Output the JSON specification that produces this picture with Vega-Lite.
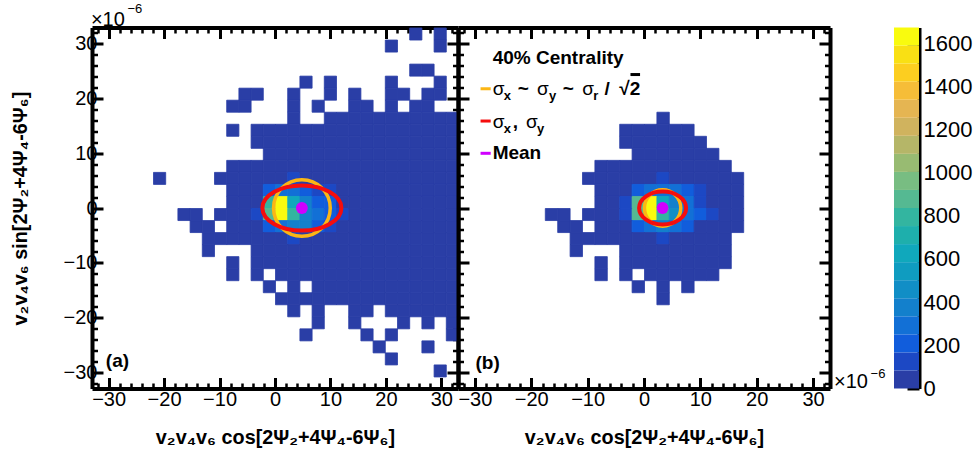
{
"$schema":"https://vega.github.io/schema/vega-lite/v6.json",
"background":"white",
"padding":{"left":10,"top":2.5,"right":5,"bottom":5},
"config":{"view":{"stroke":null},"axis":{"grid":false,"domainColor":"#000","domainWidth":4,"tickColor":"#000","tickWidth":3,"labelColor":"#000","labelFont":"Liberation Sans","labelFontSize":20,"labelPadding":6,"titleFont":"Liberation Sans","titleFontSize":19.8,"titleFontWeight":"bold","titleColor":"#000","zindex":1,"labelFlush":false,"labelOverlap":false},"text":{"font":"Liberation Sans","color":"#000"}},
"datasets":{
"ca":[
{"x":24.2,"y":30.8,"c":10},{"x":28.6,"y":30.8,"c":10},
{"x":19.8,"y":28.6,"c":10},{"x":28.6,"y":28.6,"c":10},
{"x":24.2,"y":24.2,"c":10},{"x":26.4,"y":24.2,"c":10},
{"x":4.4,"y":22,"c":10},{"x":8.8,"y":22,"c":10},{"x":19.8,"y":22,"c":10},{"x":28.6,"y":22,"c":10},
{"x":-6.6,"y":19.8,"c":10},{"x":-4.4,"y":19.8,"c":10},{"x":2.2,"y":19.8,"c":10},{"x":8.8,"y":19.8,"c":10},{"x":13.2,"y":19.8,"c":10},{"x":19.8,"y":19.8,"c":10},{"x":22,"y":19.8,"c":10},{"x":26.4,"y":19.8,"c":10},{"x":28.6,"y":19.8,"c":10},
{"x":-8.8,"y":17.6,"c":10},{"x":-6.6,"y":17.6,"c":10},{"x":2.2,"y":17.6,"c":10},{"x":6.6,"y":17.6,"c":10},{"x":13.2,"y":17.6,"c":10},{"x":15.4,"y":17.6,"c":10},{"x":19.8,"y":17.6,"c":10},{"x":24.2,"y":17.6,"c":10},{"x":26.4,"y":17.6,"c":10},
{"x":2.2,"y":15.4,"c":10},{"x":8.8,"y":15.4,"c":10},{"x":11,"y":15.4,"c":10},{"x":13.2,"y":15.4,"c":10},{"x":15.4,"y":15.4,"c":10},{"x":17.6,"y":15.4,"c":10},{"x":19.8,"y":15.4,"c":10},{"x":22,"y":15.4,"c":10},{"x":24.2,"y":15.4,"c":10},{"x":26.4,"y":15.4,"c":10},{"x":28.6,"y":15.4,"c":10},{"x":30.8,"y":15.4,"c":10},
{"x":-8.8,"y":13.2,"c":10},{"x":-4.4,"y":13.2,"c":10},{"x":-2.2,"y":13.2,"c":10},{"x":0,"y":13.2,"c":10},{"x":2.2,"y":13.2,"c":10},{"x":4.4,"y":13.2,"c":10},{"x":6.6,"y":13.2,"c":10},{"x":8.8,"y":13.2,"c":10},{"x":11,"y":13.2,"c":10},{"x":13.2,"y":13.2,"c":10},{"x":15.4,"y":13.2,"c":10},{"x":17.6,"y":13.2,"c":10},{"x":19.8,"y":13.2,"c":10},{"x":22,"y":13.2,"c":10},{"x":24.2,"y":13.2,"c":10},{"x":26.4,"y":13.2,"c":10},{"x":28.6,"y":13.2,"c":10},{"x":30.8,"y":13.2,"c":10},
{"x":-4.4,"y":11,"c":10},{"x":-2.2,"y":11,"c":10},{"x":0,"y":11,"c":10},{"x":2.2,"y":11,"c":10},{"x":4.4,"y":11,"c":10},{"x":6.6,"y":11,"c":10},{"x":8.8,"y":11,"c":10},{"x":11,"y":11,"c":10},{"x":13.2,"y":11,"c":10},{"x":15.4,"y":11,"c":10},{"x":17.6,"y":11,"c":10},{"x":19.8,"y":11,"c":10},{"x":22,"y":11,"c":10},{"x":24.2,"y":11,"c":10},{"x":26.4,"y":11,"c":10},{"x":28.6,"y":11,"c":10},{"x":30.8,"y":11,"c":10},
{"x":-2.2,"y":8.8,"c":10},{"x":0,"y":8.8,"c":10},{"x":2.2,"y":8.8,"c":10},{"x":4.4,"y":8.8,"c":10},{"x":6.6,"y":8.8,"c":10},{"x":8.8,"y":8.8,"c":10},{"x":11,"y":8.8,"c":10},{"x":13.2,"y":8.8,"c":10},{"x":15.4,"y":8.8,"c":10},{"x":17.6,"y":8.8,"c":10},{"x":19.8,"y":8.8,"c":10},{"x":22,"y":8.8,"c":10},{"x":24.2,"y":8.8,"c":10},{"x":26.4,"y":8.8,"c":10},{"x":28.6,"y":8.8,"c":10},{"x":30.8,"y":8.8,"c":10},
{"x":-8.8,"y":6.6,"c":10},{"x":-6.6,"y":6.6,"c":10},{"x":-4.4,"y":6.6,"c":10},{"x":-2.2,"y":6.6,"c":10},{"x":0,"y":6.6,"c":10},{"x":2.2,"y":6.6,"c":10},{"x":4.4,"y":6.6,"c":10},{"x":6.6,"y":6.6,"c":10},{"x":8.8,"y":6.6,"c":10},{"x":11,"y":6.6,"c":10},{"x":13.2,"y":6.6,"c":10},{"x":15.4,"y":6.6,"c":10},{"x":17.6,"y":6.6,"c":10},{"x":19.8,"y":6.6,"c":10},{"x":22,"y":6.6,"c":10},{"x":24.2,"y":6.6,"c":10},{"x":26.4,"y":6.6,"c":10},{"x":28.6,"y":6.6,"c":10},{"x":30.8,"y":6.6,"c":10},
{"x":-22,"y":4.4,"c":10},{"x":-11,"y":4.4,"c":10},{"x":-8.8,"y":4.4,"c":10},{"x":-6.6,"y":4.4,"c":10},{"x":-4.4,"y":4.4,"c":10},{"x":-2.2,"y":4.4,"c":10},{"x":0,"y":4.4,"c":10},{"x":2.2,"y":4.4,"c":150},{"x":4.4,"y":4.4,"c":10},{"x":6.6,"y":4.4,"c":10},{"x":8.8,"y":4.4,"c":10},{"x":11,"y":4.4,"c":10},{"x":13.2,"y":4.4,"c":10},{"x":15.4,"y":4.4,"c":10},{"x":17.6,"y":4.4,"c":10},{"x":19.8,"y":4.4,"c":10},{"x":22,"y":4.4,"c":10},{"x":24.2,"y":4.4,"c":10},{"x":26.4,"y":4.4,"c":10},{"x":28.6,"y":4.4,"c":10},{"x":30.8,"y":4.4,"c":10},
{"x":-8.8,"y":2.2,"c":10},{"x":-6.6,"y":2.2,"c":10},{"x":-4.4,"y":2.2,"c":10},{"x":-2.2,"y":2.2,"c":200},{"x":0,"y":2.2,"c":260},{"x":2.2,"y":2.2,"c":300},{"x":4.4,"y":2.2,"c":200},{"x":6.6,"y":2.2,"c":150},{"x":8.8,"y":2.2,"c":100},{"x":11,"y":2.2,"c":10},{"x":13.2,"y":2.2,"c":10},{"x":15.4,"y":2.2,"c":10},{"x":17.6,"y":2.2,"c":10},{"x":19.8,"y":2.2,"c":10},{"x":22,"y":2.2,"c":10},{"x":24.2,"y":2.2,"c":10},{"x":26.4,"y":2.2,"c":10},{"x":28.6,"y":2.2,"c":10},{"x":30.8,"y":2.2,"c":10},
{"x":-8.8,"y":0,"c":10},{"x":-6.6,"y":0,"c":10},{"x":-4.4,"y":0,"c":40},{"x":-2.2,"y":0,"c":800},{"x":0,"y":0,"c":1650},{"x":2.2,"y":0,"c":620},{"x":4.4,"y":0,"c":380},{"x":6.6,"y":0,"c":250},{"x":8.8,"y":0,"c":200},{"x":11,"y":0,"c":40},{"x":13.2,"y":0,"c":10},{"x":15.4,"y":0,"c":10},{"x":17.6,"y":0,"c":10},{"x":19.8,"y":0,"c":10},{"x":22,"y":0,"c":10},{"x":24.2,"y":0,"c":10},{"x":26.4,"y":0,"c":10},{"x":28.6,"y":0,"c":10},{"x":30.8,"y":0,"c":10},
{"x":-17.6,"y":-2.2,"c":10},{"x":-15.4,"y":-2.2,"c":10},{"x":-11,"y":-2.2,"c":10},{"x":-8.8,"y":-2.2,"c":10},{"x":-6.6,"y":-2.2,"c":10},{"x":-4.4,"y":-2.2,"c":150},{"x":-2.2,"y":-2.2,"c":850},{"x":0,"y":-2.2,"c":1650},{"x":2.2,"y":-2.2,"c":780},{"x":4.4,"y":-2.2,"c":400},{"x":6.6,"y":-2.2,"c":280},{"x":8.8,"y":-2.2,"c":220},{"x":11,"y":-2.2,"c":150},{"x":13.2,"y":-2.2,"c":30},{"x":15.4,"y":-2.2,"c":10},{"x":17.6,"y":-2.2,"c":10},{"x":19.8,"y":-2.2,"c":10},{"x":22,"y":-2.2,"c":10},{"x":24.2,"y":-2.2,"c":10},{"x":26.4,"y":-2.2,"c":10},{"x":28.6,"y":-2.2,"c":10},{"x":30.8,"y":-2.2,"c":10},
{"x":-15.4,"y":-4.4,"c":10},{"x":-13.2,"y":-4.4,"c":10},{"x":-8.8,"y":-4.4,"c":10},{"x":-6.6,"y":-4.4,"c":10},{"x":-4.4,"y":-4.4,"c":10},{"x":-2.2,"y":-4.4,"c":200},{"x":0,"y":-4.4,"c":260},{"x":2.2,"y":-4.4,"c":340},{"x":4.4,"y":-4.4,"c":340},{"x":6.6,"y":-4.4,"c":200},{"x":8.8,"y":-4.4,"c":100},{"x":11,"y":-4.4,"c":10},{"x":13.2,"y":-4.4,"c":10},{"x":15.4,"y":-4.4,"c":10},{"x":17.6,"y":-4.4,"c":10},{"x":19.8,"y":-4.4,"c":10},{"x":22,"y":-4.4,"c":10},{"x":24.2,"y":-4.4,"c":10},{"x":26.4,"y":-4.4,"c":10},{"x":28.6,"y":-4.4,"c":10},{"x":30.8,"y":-4.4,"c":10},
{"x":-13.2,"y":-6.6,"c":10},{"x":-11,"y":-6.6,"c":10},{"x":-8.8,"y":-6.6,"c":10},{"x":-6.6,"y":-6.6,"c":10},{"x":-4.4,"y":-6.6,"c":10},{"x":-2.2,"y":-6.6,"c":10},{"x":0,"y":-6.6,"c":10},{"x":2.2,"y":-6.6,"c":150},{"x":4.4,"y":-6.6,"c":10},{"x":6.6,"y":-6.6,"c":10},{"x":8.8,"y":-6.6,"c":10},{"x":11,"y":-6.6,"c":10},{"x":13.2,"y":-6.6,"c":10},{"x":15.4,"y":-6.6,"c":10},{"x":17.6,"y":-6.6,"c":10},{"x":19.8,"y":-6.6,"c":10},{"x":22,"y":-6.6,"c":10},{"x":24.2,"y":-6.6,"c":10},{"x":26.4,"y":-6.6,"c":10},{"x":28.6,"y":-6.6,"c":10},{"x":30.8,"y":-6.6,"c":10},
{"x":-13.2,"y":-8.8,"c":10},{"x":-4.4,"y":-8.8,"c":10},{"x":-2.2,"y":-8.8,"c":10},{"x":0,"y":-8.8,"c":10},{"x":2.2,"y":-8.8,"c":10},{"x":4.4,"y":-8.8,"c":10},{"x":6.6,"y":-8.8,"c":10},{"x":8.8,"y":-8.8,"c":10},{"x":11,"y":-8.8,"c":10},{"x":13.2,"y":-8.8,"c":10},{"x":15.4,"y":-8.8,"c":10},{"x":17.6,"y":-8.8,"c":10},{"x":19.8,"y":-8.8,"c":10},{"x":22,"y":-8.8,"c":10},{"x":24.2,"y":-8.8,"c":10},{"x":26.4,"y":-8.8,"c":10},{"x":28.6,"y":-8.8,"c":10},{"x":30.8,"y":-8.8,"c":10},
{"x":-8.8,"y":-11,"c":10},{"x":-4.4,"y":-11,"c":10},{"x":-2.2,"y":-11,"c":10},{"x":0,"y":-11,"c":10},{"x":2.2,"y":-11,"c":10},{"x":4.4,"y":-11,"c":10},{"x":6.6,"y":-11,"c":10},{"x":8.8,"y":-11,"c":10},{"x":11,"y":-11,"c":10},{"x":13.2,"y":-11,"c":10},{"x":15.4,"y":-11,"c":10},{"x":17.6,"y":-11,"c":10},{"x":19.8,"y":-11,"c":10},{"x":22,"y":-11,"c":10},{"x":24.2,"y":-11,"c":10},{"x":26.4,"y":-11,"c":10},{"x":28.6,"y":-11,"c":10},{"x":30.8,"y":-11,"c":10},
{"x":-8.8,"y":-13.2,"c":10},{"x":-4.4,"y":-13.2,"c":10},{"x":0,"y":-13.2,"c":10},{"x":2.2,"y":-13.2,"c":10},{"x":4.4,"y":-13.2,"c":10},{"x":6.6,"y":-13.2,"c":10},{"x":8.8,"y":-13.2,"c":10},{"x":11,"y":-13.2,"c":10},{"x":13.2,"y":-13.2,"c":10},{"x":15.4,"y":-13.2,"c":10},{"x":17.6,"y":-13.2,"c":10},{"x":19.8,"y":-13.2,"c":10},{"x":22,"y":-13.2,"c":10},{"x":24.2,"y":-13.2,"c":10},{"x":26.4,"y":-13.2,"c":10},{"x":28.6,"y":-13.2,"c":10},{"x":30.8,"y":-13.2,"c":10},
{"x":-2.2,"y":-15.4,"c":10},{"x":2.2,"y":-15.4,"c":10},{"x":6.6,"y":-15.4,"c":10},{"x":8.8,"y":-15.4,"c":10},{"x":11,"y":-15.4,"c":10},{"x":13.2,"y":-15.4,"c":10},{"x":15.4,"y":-15.4,"c":10},{"x":17.6,"y":-15.4,"c":10},{"x":19.8,"y":-15.4,"c":10},{"x":22,"y":-15.4,"c":10},{"x":24.2,"y":-15.4,"c":10},{"x":26.4,"y":-15.4,"c":10},{"x":28.6,"y":-15.4,"c":10},{"x":30.8,"y":-15.4,"c":10},
{"x":0,"y":-17.6,"c":10},{"x":2.2,"y":-17.6,"c":10},{"x":4.4,"y":-17.6,"c":10},{"x":6.6,"y":-17.6,"c":10},{"x":8.8,"y":-17.6,"c":10},{"x":11,"y":-17.6,"c":10},{"x":13.2,"y":-17.6,"c":10},{"x":15.4,"y":-17.6,"c":10},{"x":17.6,"y":-17.6,"c":10},{"x":19.8,"y":-17.6,"c":10},{"x":22,"y":-17.6,"c":10},{"x":24.2,"y":-17.6,"c":10},{"x":26.4,"y":-17.6,"c":10},{"x":28.6,"y":-17.6,"c":10},{"x":30.8,"y":-17.6,"c":10},
{"x":2.2,"y":-19.8,"c":10},{"x":6.6,"y":-19.8,"c":10},{"x":13.2,"y":-19.8,"c":10},{"x":15.4,"y":-19.8,"c":10},{"x":19.8,"y":-19.8,"c":10},{"x":22,"y":-19.8,"c":10},{"x":24.2,"y":-19.8,"c":10},{"x":26.4,"y":-19.8,"c":10},{"x":28.6,"y":-19.8,"c":10},{"x":30.8,"y":-19.8,"c":10},
{"x":6.6,"y":-22,"c":10},{"x":13.2,"y":-22,"c":10},{"x":22,"y":-22,"c":10},{"x":26.4,"y":-22,"c":10},{"x":30.8,"y":-22,"c":10},
{"x":4.4,"y":-24.2,"c":10},{"x":15.4,"y":-24.2,"c":10},{"x":19.8,"y":-24.2,"c":10},{"x":30.8,"y":-24.2,"c":10},
{"x":17.6,"y":-26.4,"c":10},{"x":26.4,"y":-26.4,"c":10},
{"x":19.8,"y":-28.6,"c":10},
{"x":28.6,"y":-30.8,"c":10}
],
"cb":[
{"x":2.2,"y":15.4,"c":10},
{"x":-4.4,"y":13.2,"c":10},{"x":-2.2,"y":13.2,"c":10},{"x":0,"y":13.2,"c":10},{"x":2.2,"y":13.2,"c":10},{"x":4.4,"y":13.2,"c":10},{"x":6.6,"y":13.2,"c":10},
{"x":-4.4,"y":11,"c":10},{"x":-2.2,"y":11,"c":10},{"x":0,"y":11,"c":10},{"x":2.2,"y":11,"c":10},{"x":4.4,"y":11,"c":10},{"x":6.6,"y":11,"c":10},{"x":8.8,"y":11,"c":10},
{"x":-2.2,"y":8.8,"c":10},{"x":0,"y":8.8,"c":10},{"x":2.2,"y":8.8,"c":10},{"x":4.4,"y":8.8,"c":10},{"x":6.6,"y":8.8,"c":10},{"x":8.8,"y":8.8,"c":10},{"x":11,"y":8.8,"c":10},
{"x":-8.8,"y":6.6,"c":10},{"x":-6.6,"y":6.6,"c":10},{"x":-4.4,"y":6.6,"c":10},{"x":-2.2,"y":6.6,"c":10},{"x":0,"y":6.6,"c":10},{"x":2.2,"y":6.6,"c":10},{"x":4.4,"y":6.6,"c":10},{"x":6.6,"y":6.6,"c":10},{"x":8.8,"y":6.6,"c":10},{"x":11,"y":6.6,"c":10},{"x":13.2,"y":6.6,"c":10},
{"x":-11,"y":4.4,"c":10},{"x":-8.8,"y":4.4,"c":10},{"x":-6.6,"y":4.4,"c":10},{"x":-4.4,"y":4.4,"c":10},{"x":-2.2,"y":4.4,"c":10},{"x":0,"y":4.4,"c":10},{"x":2.2,"y":4.4,"c":150},{"x":4.4,"y":4.4,"c":10},{"x":6.6,"y":4.4,"c":10},{"x":8.8,"y":4.4,"c":10},{"x":11,"y":4.4,"c":10},{"x":13.2,"y":4.4,"c":10},{"x":15.4,"y":4.4,"c":10},
{"x":-8.8,"y":2.2,"c":10},{"x":-6.6,"y":2.2,"c":10},{"x":-4.4,"y":2.2,"c":10},{"x":-2.2,"y":2.2,"c":200},{"x":0,"y":2.2,"c":300},{"x":2.2,"y":2.2,"c":300},{"x":4.4,"y":2.2,"c":300},{"x":6.6,"y":2.2,"c":200},{"x":8.8,"y":2.2,"c":100},{"x":11,"y":2.2,"c":10},{"x":13.2,"y":2.2,"c":10},{"x":15.4,"y":2.2,"c":10},
{"x":-8.8,"y":0,"c":10},{"x":-6.6,"y":0,"c":10},{"x":-4.4,"y":0,"c":100},{"x":-2.2,"y":0,"c":850},{"x":0,"y":0,"c":1650},{"x":2.2,"y":0,"c":620},{"x":4.4,"y":0,"c":380},{"x":6.6,"y":0,"c":280},{"x":8.8,"y":0,"c":150},{"x":11,"y":0,"c":50},{"x":13.2,"y":0,"c":10},{"x":15.4,"y":0,"c":10},
{"x":-17.6,"y":-2.2,"c":10},{"x":-15.4,"y":-2.2,"c":10},{"x":-11,"y":-2.2,"c":10},{"x":-8.8,"y":-2.2,"c":10},{"x":-6.6,"y":-2.2,"c":10},{"x":-4.4,"y":-2.2,"c":120},{"x":-2.2,"y":-2.2,"c":850},{"x":0,"y":-2.2,"c":1650},{"x":2.2,"y":-2.2,"c":780},{"x":4.4,"y":-2.2,"c":420},{"x":6.6,"y":-2.2,"c":300},{"x":8.8,"y":-2.2,"c":180},{"x":11,"y":-2.2,"c":130},{"x":13.2,"y":-2.2,"c":10},{"x":15.4,"y":-2.2,"c":10},
{"x":-15.4,"y":-4.4,"c":10},{"x":-13.2,"y":-4.4,"c":10},{"x":-8.8,"y":-4.4,"c":10},{"x":-6.6,"y":-4.4,"c":10},{"x":-4.4,"y":-4.4,"c":10},{"x":-2.2,"y":-4.4,"c":200},{"x":0,"y":-4.4,"c":300},{"x":2.2,"y":-4.4,"c":350},{"x":4.4,"y":-4.4,"c":300},{"x":6.6,"y":-4.4,"c":200},{"x":8.8,"y":-4.4,"c":40},{"x":11,"y":-4.4,"c":10},{"x":13.2,"y":-4.4,"c":10},{"x":15.4,"y":-4.4,"c":10},
{"x":-13.2,"y":-6.6,"c":10},{"x":-11,"y":-6.6,"c":10},{"x":-8.8,"y":-6.6,"c":10},{"x":-6.6,"y":-6.6,"c":10},{"x":-4.4,"y":-6.6,"c":10},{"x":-2.2,"y":-6.6,"c":10},{"x":0,"y":-6.6,"c":10},{"x":2.2,"y":-6.6,"c":150},{"x":4.4,"y":-6.6,"c":10},{"x":6.6,"y":-6.6,"c":10},{"x":8.8,"y":-6.6,"c":10},{"x":11,"y":-6.6,"c":10},{"x":13.2,"y":-6.6,"c":10},
{"x":-13.2,"y":-8.8,"c":10},{"x":-4.4,"y":-8.8,"c":10},{"x":-2.2,"y":-8.8,"c":10},{"x":0,"y":-8.8,"c":10},{"x":2.2,"y":-8.8,"c":10},{"x":4.4,"y":-8.8,"c":10},{"x":6.6,"y":-8.8,"c":10},{"x":8.8,"y":-8.8,"c":10},{"x":11,"y":-8.8,"c":10},{"x":13.2,"y":-8.8,"c":10},
{"x":-8.8,"y":-11,"c":10},{"x":-4.4,"y":-11,"c":10},{"x":-2.2,"y":-11,"c":10},{"x":0,"y":-11,"c":10},{"x":2.2,"y":-11,"c":10},{"x":4.4,"y":-11,"c":10},{"x":6.6,"y":-11,"c":10},{"x":8.8,"y":-11,"c":10},{"x":11,"y":-11,"c":10},{"x":13.2,"y":-11,"c":10},
{"x":-8.8,"y":-13.2,"c":10},{"x":-4.4,"y":-13.2,"c":10},{"x":0,"y":-13.2,"c":10},{"x":2.2,"y":-13.2,"c":10},{"x":4.4,"y":-13.2,"c":10},{"x":6.6,"y":-13.2,"c":10},{"x":8.8,"y":-13.2,"c":10},{"x":11,"y":-13.2,"c":10},
{"x":-2.2,"y":-15.4,"c":10},{"x":2.2,"y":-15.4,"c":10},{"x":6.6,"y":-15.4,"c":10},
{"x":2.2,"y":-17.6,"c":10}
],
"bar":[
{"lo":0,"hi":83.6,"c":41.8},{"lo":83.6,"hi":167.2,"c":125.4},{"lo":167.2,"hi":250.8,"c":209},{"lo":250.8,"hi":334.4,"c":292.6},{"lo":334.4,"hi":418,"c":376.2},{"lo":418,"hi":501.6,"c":459.8},{"lo":501.6,"hi":585.2,"c":543.4},{"lo":585.2,"hi":668.8,"c":627},{"lo":668.8,"hi":752.4,"c":710.6},{"lo":752.4,"hi":836,"c":794.2},{"lo":836,"hi":919.6,"c":877.8},{"lo":919.6,"hi":1003.2,"c":961.4},{"lo":1003.2,"hi":1086.8,"c":1045},{"lo":1086.8,"hi":1170.4,"c":1128.6},{"lo":1170.4,"hi":1254,"c":1212.2},{"lo":1254,"hi":1337.6,"c":1295.8},{"lo":1337.6,"hi":1421.2,"c":1379.4},{"lo":1421.2,"hi":1504.8,"c":1463},{"lo":1504.8,"hi":1588.4,"c":1546.6},{"lo":1588.4,"hi":1672,"c":1630.2}
]
},
"hconcat":[
{"width":366,"height":361,"resolve":{"axis":{"x":"independent","y":"independent"}},"layer":[
{"data":{"name":"ca"},"mark":{"type":"rect","strokeWidth":0.8},"encoding":{
"x":{"field":"x","type":"quantitative","bin":{"binned":true,"step":2.2},"scale":{"domain":[-33,33],"nice":false,"zero":false},"axis":{"orient":"bottom","values":[-30,-20,-10,0,10,20,30],"tickSize":-11,"title":"v₂v₄v₆ cos[2Ψ₂+4Ψ₄-6Ψ₆]","titlePadding":18,"labelPadding":12,"format":"d"}},
"y":{"field":"y","type":"quantitative","bin":{"binned":true,"step":2.2},"scale":{"domain":[-33,33],"nice":false,"zero":false},"axis":{"orient":"left","values":[-30,-20,-10,0,10,20,30],"tickSize":-11,"title":"v₂v₄v₆ sin[2Ψ₂+4Ψ₄-6Ψ₆]","titlePadding":33,"format":"d"}},
"color":{"field":"c","type":"quantitative","legend":null,"scale":{"type":"quantize","domain":[0,1672],"range":["#2a3ea6","#1c48c4","#115ddc","#1270d6","#1380cc","#118ec6","#0f9cc0","#10a8bc","#1eafac","#33b5a0","#55b992","#78bd82","#98bb72","#b5b668","#d0b35e","#e5b552","#f6bd38","#fcce20","#f9e014","#f9fb0e"]}},
"stroke":{"field":"c","type":"quantitative","legend":null,"scale":{"type":"quantize","domain":[0,1672],"range":["#2a3ea6","#1c48c4","#115ddc","#1270d6","#1380cc","#118ec6","#0f9cc0","#10a8bc","#1eafac","#33b5a0","#55b992","#78bd82","#98bb72","#b5b668","#d0b35e","#e5b552","#f6bd38","#fcce20","#f9e014","#f9fb0e"]}}}},
{"data":{"values":[{"x":4.85,"y":0}]},"mark":{"type":"point","shape":"circle","size":3217,"filled":false,"stroke":"#fcb614","strokeWidth":3.5,"opacity":1},"encoding":{
"x":{"field":"x","type":"quantitative","axis":{"orient":"top","values":[-30,-20,-10,0,10,20,30],"tickSize":-11,"labels":false,"title":null}},
"y":{"field":"y","type":"quantitative","axis":{"orient":"right","values":[-30,-20,-10,0,10,20,30],"tickSize":-11,"labels":false,"title":null}}}},
{"data":{"values":[{"x":4.85,"y":0}]},"mark":{"type":"point","shape":"M-1,0A1,0.57 0 1,1 1,0A1,0.57 0 1,1 -1,0Z","size":6241,"filled":false,"stroke":"#f50d0d","strokeWidth":4,"opacity":1},"encoding":{
"x":{"field":"x","type":"quantitative","axis":{"orient":"bottom","values":[-32,-28,-26,-24,-22,-18,-16,-14,-12,-8,-6,-4,-2,2,4,6,8,12,14,16,18,22,24,26,28,32],"tickSize":-5.5,"tickWidth":2.5,"labels":false,"domain":false,"title":null}},
"y":{"field":"y","type":"quantitative","axis":{"orient":"left","values":[-32,-28,-26,-24,-22,-18,-16,-14,-12,-8,-6,-4,-2,2,4,6,8,12,14,16,18,22,24,26,28,32],"tickSize":-5.5,"tickWidth":2.5,"labels":false,"domain":false,"title":null}}}},
{"data":{"values":[{"x":4.85,"y":0}]},"mark":{"type":"point","shape":"circle","size":141,"filled":true,"color":"#d000ff","opacity":1},"encoding":{
"x":{"field":"x","type":"quantitative","axis":{"orient":"top","values":[-32,-28,-26,-24,-22,-18,-16,-14,-12,-8,-6,-4,-2,2,4,6,8,12,14,16,18,22,24,26,28,32],"tickSize":-5.5,"tickWidth":2.5,"labels":false,"domain":false,"title":null}},
"y":{"field":"y","type":"quantitative","axis":{"orient":"right","values":[-32,-28,-26,-24,-22,-18,-16,-14,-12,-8,-6,-4,-2,2,4,6,8,12,14,16,18,22,24,26,28,32],"tickSize":-5.5,"tickWidth":2.5,"labels":false,"domain":false,"title":null}}}},
{"data":{"values":[{"x":-30.5,"y":-29,"t":"(a)"}]},"mark":{"type":"text","align":"left","baseline":"alphabetic","fontWeight":"bold","fontSize":19},"encoding":{
"x":{"field":"x","type":"quantitative","axis":null},"y":{"field":"y","type":"quantitative","axis":null},"text":{"field":"t"}}},
{"data":{"values":[{"x":-33.2,"y":33.2,"t":"×10"}]},"mark":{"type":"text","align":"left","baseline":"alphabetic","fontSize":20},"encoding":{
"x":{"field":"x","type":"quantitative","axis":null},"y":{"field":"y","type":"quantitative","axis":null},"text":{"field":"t"}}},
{"data":{"values":[{"x":-26.6,"y":35.6,"t":"−6"}]},"mark":{"type":"text","align":"left","baseline":"alphabetic","fontSize":13},"encoding":{
"x":{"field":"x","type":"quantitative","axis":null},"y":{"field":"y","type":"quantitative","axis":null},"text":{"field":"t"}}}
]},
{"width":372,"height":361,"resolve":{"axis":{"x":"independent","y":"independent"}},"layer":[
{"data":{"name":"cb"},"mark":{"type":"rect","strokeWidth":0.8},"encoding":{
"x":{"field":"x","type":"quantitative","bin":{"binned":true,"step":2.2},"scale":{"domain":[-33,33],"nice":false,"zero":false},"axis":{"orient":"bottom","values":[-30,-20,-10,0,10,20,30],"tickSize":-11,"title":"v₂v₄v₆ cos[2Ψ₂+4Ψ₄-6Ψ₆]","titlePadding":18,"labelPadding":12,"format":"d"}},
"y":{"field":"y","type":"quantitative","bin":{"binned":true,"step":2.2},"scale":{"domain":[-33,33],"nice":false,"zero":false},"axis":{"orient":"left","values":[-30,-20,-10,0,10,20,30],"tickSize":-11,"labels":false,"title":null}},
"color":{"field":"c","type":"quantitative","legend":null,"scale":{"type":"quantize","domain":[0,1672],"range":["#2a3ea6","#1c48c4","#115ddc","#1270d6","#1380cc","#118ec6","#0f9cc0","#10a8bc","#1eafac","#33b5a0","#55b992","#78bd82","#98bb72","#b5b668","#d0b35e","#e5b552","#f6bd38","#fcce20","#f9e014","#f9fb0e"]}},
"stroke":{"field":"c","type":"quantitative","legend":null,"scale":{"type":"quantize","domain":[0,1672],"range":["#2a3ea6","#1c48c4","#115ddc","#1270d6","#1380cc","#118ec6","#0f9cc0","#10a8bc","#1eafac","#33b5a0","#55b992","#78bd82","#98bb72","#b5b668","#d0b35e","#e5b552","#f6bd38","#fcce20","#f9e014","#f9fb0e"]}}}},
{"data":{"values":[{"x":3.3,"y":0}]},"mark":{"type":"point","shape":"circle","size":1320,"filled":false,"stroke":"#fcb614","strokeWidth":3.5,"opacity":1},"encoding":{
"x":{"field":"x","type":"quantitative","axis":{"orient":"top","values":[-30,-20,-10,0,10,20,30],"tickSize":-11,"labels":false,"title":null}},
"y":{"field":"y","type":"quantitative","axis":{"orient":"right","values":[-30,-20,-10,0,10,20,30],"tickSize":-11,"labels":false,"title":null}}}},
{"data":{"values":[{"x":3.3,"y":0}]},"mark":{"type":"point","shape":"M-1,0A1,0.7 0 1,1 1,0A1,0.7 0 1,1 -1,0Z","size":2209,"filled":false,"stroke":"#f50d0d","strokeWidth":4,"opacity":1},"encoding":{
"x":{"field":"x","type":"quantitative","axis":{"orient":"bottom","values":[-32,-28,-26,-24,-22,-18,-16,-14,-12,-8,-6,-4,-2,2,4,6,8,12,14,16,18,22,24,26,28,32],"tickSize":-5.5,"tickWidth":2.5,"labels":false,"domain":false,"title":null}},
"y":{"field":"y","type":"quantitative","axis":{"orient":"left","values":[-32,-28,-26,-24,-22,-18,-16,-14,-12,-8,-6,-4,-2,2,4,6,8,12,14,16,18,22,24,26,28,32],"tickSize":-5.5,"tickWidth":2.5,"labels":false,"domain":false,"title":null}}}},
{"data":{"values":[{"x":3.3,"y":0}]},"mark":{"type":"point","shape":"circle","size":141,"filled":true,"color":"#d000ff","opacity":1},"encoding":{
"x":{"field":"x","type":"quantitative","axis":{"orient":"top","values":[-32,-28,-26,-24,-22,-18,-16,-14,-12,-8,-6,-4,-2,2,4,6,8,12,14,16,18,22,24,26,28,32],"tickSize":-5.5,"tickWidth":2.5,"labels":false,"domain":false,"title":null}},
"y":{"field":"y","type":"quantitative","axis":{"orient":"right","values":[-32,-28,-26,-24,-22,-18,-16,-14,-12,-8,-6,-4,-2,2,4,6,8,12,14,16,18,22,24,26,28,32],"tickSize":-5.5,"tickWidth":2.5,"labels":false,"domain":false,"title":null}}}},
{"data":{"values":[{"x":-29,"x2":-27.2,"y":21.8,"k":"g"},{"x":-29,"x2":-27.2,"y":15.9,"k":"r"},{"x":-29,"x2":-27.2,"y":10,"k":"m"},{"x":-2.4,"x2":-0.7,"y":24.4,"k":"b"}]},"mark":{"type":"rule","strokeWidth":3},"encoding":{
"x":{"field":"x","type":"quantitative","axis":null},"x2":{"field":"x2"},"y":{"field":"y","type":"quantitative","axis":null},
"color":{"field":"k","type":"nominal","legend":null,"scale":{"domain":["g","r","m","b"],"range":["#fcb614","#f50d0d","#d000ff","#000000"]}}}},
{"data":{"values":[{"x":-29.9,"y":-29.4,"t":"(b)"},{"x":-26.85,"y":26.4,"t":"40% Centrality"},{"x":-26.85,"y":9,"t":"Mean"},{"x":-22.4,"y":20.67,"t":"~"},{"x":-14.4,"y":20.67,"t":"~"},{"x":-7,"y":20.67,"t":"/"},{"x":-4.4,"y":20.67,"t":"√2"},{"x":-23.3,"y":14.66,"t":","}]},"mark":{"type":"text","align":"left","baseline":"alphabetic","fontWeight":"bold","fontSize":19},"encoding":{
"x":{"field":"x","type":"quantitative","axis":null},"y":{"field":"y","type":"quantitative","axis":null},"text":{"field":"t"}}},
{"data":{"values":[{"x":-26.85,"y":20.67,"t":"σ"},{"x":-19,"y":20.67,"t":"σ"},{"x":-10.95,"y":20.67,"t":"σ"},{"x":-26.85,"y":14.66,"t":"σ"},{"x":-20.95,"y":14.66,"t":"σ"}]},"mark":{"type":"text","align":"left","baseline":"alphabetic","fontSize":19},"encoding":{
"x":{"field":"x","type":"quantitative","axis":null},"y":{"field":"y","type":"quantitative","axis":null},"text":{"field":"t"}}},
{"data":{"values":[{"x":-24.9,"y":19.76,"t":"x"},{"x":-16.85,"y":19.76,"t":"y"},{"x":-9,"y":19.76,"t":"r"},{"x":-24.9,"y":13.8,"t":"x"},{"x":-19,"y":13.8,"t":"y"}]},"mark":{"type":"text","align":"left","baseline":"alphabetic","fontWeight":"bold","fontSize":13},"encoding":{
"x":{"field":"x","type":"quantitative","axis":null},"y":{"field":"y","type":"quantitative","axis":null},"text":{"field":"t"}}},
{"data":{"values":[{"x":33.7,"y":-32.9,"t":"×10"}]},"mark":{"type":"text","align":"left","baseline":"alphabetic","fontSize":20},"encoding":{
"x":{"field":"x","type":"quantitative","axis":null},"y":{"field":"y","type":"quantitative","axis":null},"text":{"field":"t"}}},
{"data":{"values":[{"x":40.2,"y":-31,"t":"−6"}]},"mark":{"type":"text","align":"left","baseline":"alphabetic","fontSize":13},"encoding":{
"x":{"field":"x","type":"quantitative","axis":null},"y":{"field":"y","type":"quantitative","axis":null},"text":{"field":"t"}}}
]},
{"width":64,"height":361,"data":{"values":[]},"mark":{"type":"rule","opacity":0},"encoding":{}},
{"width":25,"height":361,"data":{"name":"bar"},"mark":{"type":"rect"},"encoding":{
"y":{"field":"lo","type":"quantitative","scale":{"domain":[0,1672],"nice":false,"zero":false},"axis":{"orient":"right","values":[0,200,400,600,800,1000,1200,1400,1600],"tickSize":-12,"labelFontSize":22,"labelPadding":16,"title":null,"format":"d"}},
"y2":{"field":"hi"},
"color":{"field":"c","type":"quantitative","legend":null,"scale":{"type":"quantize","domain":[0,1672],"range":["#2a3ea6","#1c48c4","#115ddc","#1270d6","#1380cc","#118ec6","#0f9cc0","#10a8bc","#1eafac","#33b5a0","#55b992","#78bd82","#98bb72","#b5b668","#d0b35e","#e5b552","#f6bd38","#fcce20","#f9e014","#f9fb0e"]}}}}
],
"bounds":"flush",
"spacing":0
}
